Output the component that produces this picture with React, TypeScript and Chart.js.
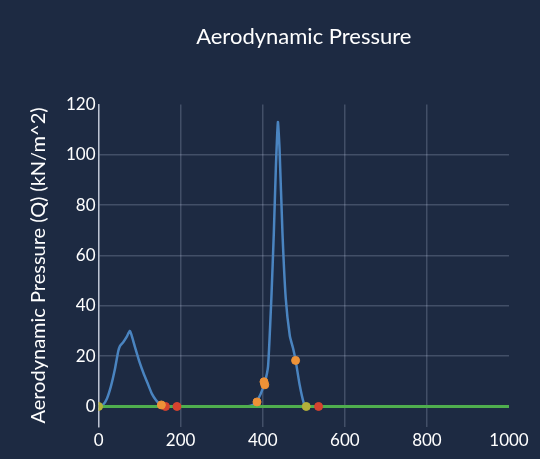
import React, { useEffect, useRef } from "react";
import { Chart, registerables } from "chart.js";

Chart.register(...registerables);

const qTime = [0, 10, 20, 30, 40, 48, 52, 60, 68, 76, 80, 88, 100, 110, 120, 130, 140, 150, 160, 200, 300, 360, 375, 385, 395, 405, 413, 421, 427, 432, 437, 441, 448, 456, 466, 474, 480, 490, 500, 506, 550, 700, 1000];
const qValue = [0, 0.5, 3, 8, 15, 22, 24, 25.5, 27.5, 30, 28.5, 24, 17.5, 13, 9, 5, 2.5, 0.8, 0, 0, 0, 0, 0.5, 2, 5, 9.5, 16, 43, 69, 95, 113, 102, 69, 43, 28, 23, 18.4, 8.5, 1.3, 0, 0, 0, 0];

const zeroLineX = [0, 1000];
const zeroLineY = [0, 0];

const orangeX = [153, 386, 403, 405, 480];
const orangeY = [0.6, 1.8, 9.8, 8.6, 18.3];

const redX = [163, 191, 536];
const redY = [0, 0, 0];

const oliveX = [0, 506];
const oliveY = [0, 0];

const xTicks = [0, 200, 400, 600, 800, 1000];
const yTicks = [0, 20, 40, 60, 80, 100, 120];

const BG = "#1d2a42";
const FONT = "Lato, 'Noto Sans', sans-serif";

function pts(xs: number[], ys: number[]) {
  return xs.map((x, i) => ({ x, y: ys[i] }));
}

export default function App() {
  const ref = useRef<HTMLCanvasElement | null>(null);
  useEffect(() => {
    document.body.style.margin = "0";
    document.body.style.background = BG;
    const chart = new Chart(ref.current as HTMLCanvasElement, {
      type: "scatter",
      data: {
        datasets: [
          {
            type: "line",
            data: pts(qTime, qValue),
            borderColor: "#4a84c0",
            borderWidth: 2.5,
            pointRadius: 0,
            tension: 0.15,
            fill: false,
            order: 3,
          },
          {
            type: "line",
            data: pts(zeroLineX, zeroLineY),
            borderColor: "#4fae4e",
            borderWidth: 3,
            pointRadius: 0,
            fill: false,
            order: 2,
          },
          {
            data: pts(orangeX, orangeY),
            backgroundColor: "#ee9237",
            borderColor: "#ee9237",
            pointRadius: 4,
            order: 1,
          },
          {
            data: pts(redX, redY),
            backgroundColor: "#d5432f",
            borderColor: "#d5432f",
            pointRadius: 4,
            order: 1,
          },
          {
            data: pts(oliveX, oliveY),
            backgroundColor: "#b3b03a",
            borderColor: "#b3b03a",
            pointRadius: 4,
            order: 1,
          },
        ],
      },
      options: {
        animation: false,
        responsive: true,
        maintainAspectRatio: false,
        layout: { padding: { left: 27, right: 31, top: 20, bottom: 4 } },
        plugins: {
          legend: { display: false },
          tooltip: { enabled: false },
          title: {
            display: true,
            text: "Aerodynamic Pressure",
            color: "#ffffff",
            fullSize: false,
            font: { family: FONT, size: 22, weight: "normal" },
            padding: { top: 4, bottom: 54 },
          },
        },
        scales: {
          x: {
            type: "linear",
            min: 0,
            max: 1000,
            afterBuildTicks: (axis: any) => {
              axis.ticks = xTicks.map((v) => ({ value: v }));
            },
            ticks: {
              color: "#ffffff",
              font: { family: FONT, size: 17 },
              padding: 4,
              maxRotation: 0,
              callback: (v: any) => String(v),
            },
            grid: {
              color: (ctx: any) =>
                ctx.tick && ctx.tick.value === 1000 ? "rgba(0,0,0,0)" : "rgba(200,215,235,0.22)",
              drawTicks: false,
              lineWidth: 1.5,
            },
            border: { display: false },
          },
          y: {
            type: "linear",
            min: -8,
            max: 120,
            afterBuildTicks: (axis: any) => {
              axis.ticks = yTicks.map((v) => ({ value: v }));
            },
            ticks: {
              color: "#ffffff",
              font: { family: FONT, size: 17 },
              padding: 3,
              callback: (v: any) => String(v),
            },
            grid: {
              color: (ctx: any) =>
                ctx.tick && ctx.tick.value === 120 ? "rgba(0,0,0,0)" : "rgba(200,215,235,0.22)",
              drawTicks: false,
              lineWidth: 1.5,
            },
            border: { display: true, color: "rgba(230,235,245,0.75)", width: 1.5 },
            title: {
              display: true,
              text: "Aerodynamic Pressure (Q) (kN/m^2)",
              color: "#ffffff",
              font: { family: FONT, size: 20, weight: "normal" },
              padding: { top: 0, bottom: 12 },
            },
          },
        },
      },
    } as any);
    return () => chart.destroy();
  }, []);
  return (
    <div style={{ width: 540, height: 459, background: BG, position: "relative" }}>
      <canvas ref={ref} />
    </div>
  );
}
